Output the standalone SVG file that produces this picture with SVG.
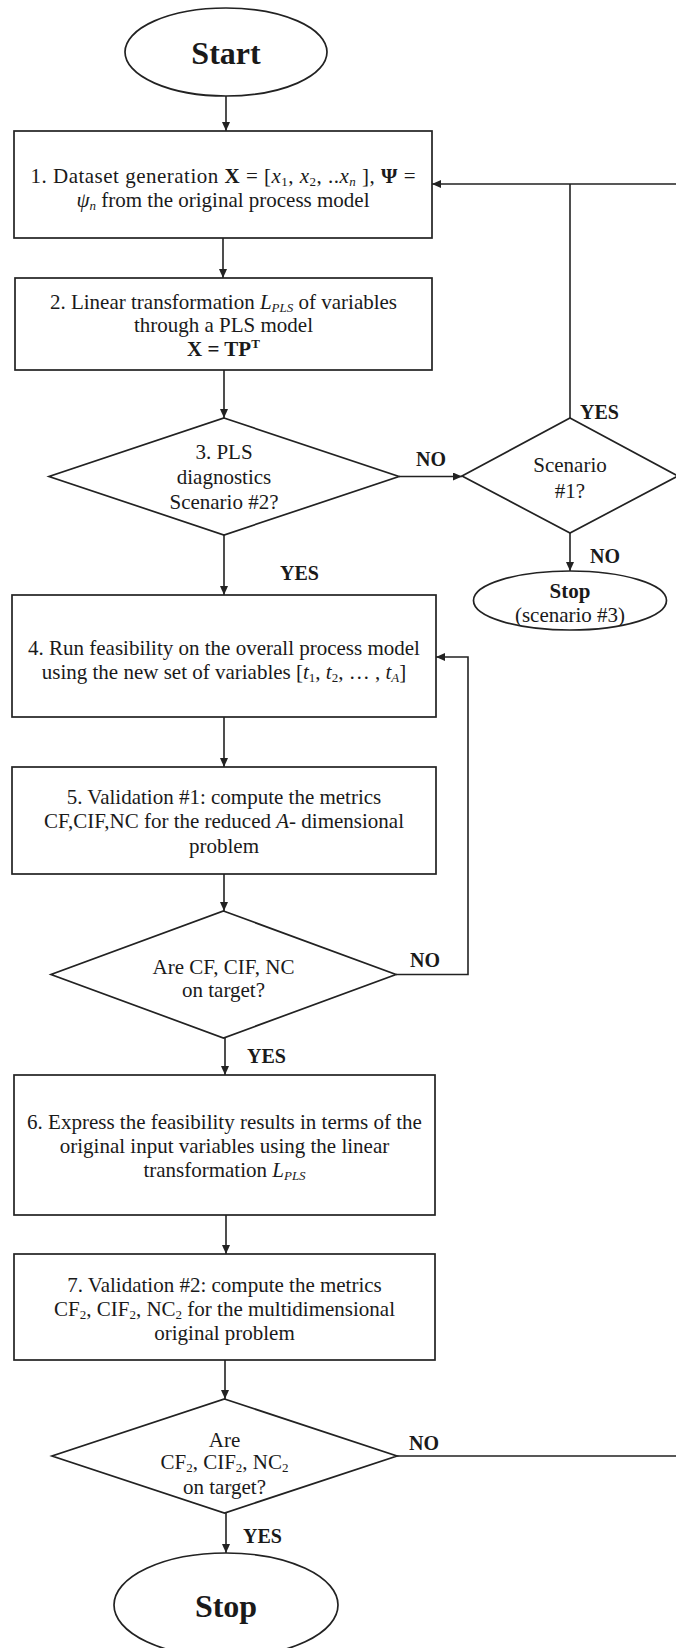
<svg xmlns="http://www.w3.org/2000/svg" width="676" height="1648" viewBox="0 0 676 1648">
  <style>
    .shape { fill: #fff; stroke: #222; stroke-width: 1.7; }
    .conn { fill: none; stroke: #222; stroke-width: 1.6; }
    text { font-family: "Liberation Serif", "Times New Roman", serif; fill: #1a1a1a; }
    .t { font-size: 21px; text-anchor: middle; }
    .lbl { font-size: 20px; font-weight: bold; }
    .big { font-size: 32px; font-weight: bold; text-anchor: middle; }
    .b { font-weight: bold; }
    .i { font-style: italic; }
    .sub { font-size: 13px; }
  </style>
  <defs>
    <marker id="arrow" markerUnits="userSpaceOnUse" markerWidth="9" markerHeight="8" refX="9" refY="4" orient="auto">
      <path d="M0,0 L9,4 L0,8 z" fill="#222"/>
    </marker>
  </defs>

  <rect width="676" height="1648" fill="#fff"/>

  <!-- connectors -->
  <g id="connectors">
    <path class="conn" d="M226,96 V131" marker-end="url(#arrow)"/>
    <path class="conn" d="M223,238 V278" marker-end="url(#arrow)"/>
    <path class="conn" d="M224,370 V418" marker-end="url(#arrow)"/>
    <path class="conn" d="M399,476.5 H462" marker-end="url(#arrow)"/>
    <path class="conn" d="M570,418 V184"/>
    <path class="conn" d="M570,533 V571" marker-end="url(#arrow)"/>
    <path class="conn" d="M224,535 V595" marker-end="url(#arrow)"/>
    <path class="conn" d="M224,717 V767" marker-end="url(#arrow)"/>
    <path class="conn" d="M224,874 V911" marker-end="url(#arrow)"/>
    <path class="conn" d="M396,974.5 H468 V657 H436" marker-end="url(#arrow)"/>
    <path class="conn" d="M225,1038 V1075" marker-end="url(#arrow)"/>
    <path class="conn" d="M226,1215 V1254" marker-end="url(#arrow)"/>
    <path class="conn" d="M225,1360 V1399" marker-end="url(#arrow)"/>
    <path class="conn" d="M397,1456 H690 V184 H432" marker-end="url(#arrow)"/>
    <path class="conn" d="M226,1513 V1553" marker-end="url(#arrow)"/>
  </g>

  <!-- edge labels -->
  <g id="labels">
    <text class="lbl" x="416" y="466">NO</text>
    <text class="lbl" x="580" y="419">YES</text>
    <text class="lbl" x="590" y="563">NO</text>
    <text class="lbl" x="280" y="580">YES</text>
    <text class="lbl" x="410" y="967">NO</text>
    <text class="lbl" x="247" y="1063">YES</text>
    <text class="lbl" x="409" y="1450">NO</text>
    <text class="lbl" x="243" y="1543">YES</text>
  </g>

  <g id="start">
    <ellipse class="shape" cx="226" cy="52" rx="101" ry="44"/>
    <text class="big" x="226" y="64">Start</text>
  </g>

  <g id="step1">
    <rect class="shape" x="14" y="131" width="418" height="107"/>
    <text class="t" x="223" y="183" textLength="385" lengthAdjust="spacing">1. Dataset generation <tspan class="b">X</tspan> = [<tspan class="i">x</tspan><tspan class="sub" dy="3">1</tspan><tspan dy="-3">, </tspan><tspan class="i">x</tspan><tspan class="sub" dy="3">2</tspan><tspan dy="-3">, ..</tspan><tspan class="i">x</tspan><tspan class="sub i" dy="3">n</tspan><tspan dy="-3"> ], </tspan><tspan class="b">Ψ</tspan> =</text>
    <text class="t" x="223" y="207"><tspan class="i">ψ</tspan><tspan class="sub i" dy="3">n</tspan><tspan dy="-3"> from the original process model</tspan></text>
  </g>

  <g id="step2">
    <rect class="shape" x="15" y="278" width="417" height="92"/>
    <text class="t" x="223.5" y="309">2. Linear transformation <tspan class="i">L</tspan><tspan class="sub i" dy="3">PLS</tspan><tspan dy="-3"> of variables</tspan></text>
    <text class="t" x="223.5" y="332">through a PLS model</text>
    <text class="t b" x="223.5" y="356">X = TP<tspan class="sub" dy="-8">T</tspan></text>
  </g>

  <g id="decision3">
    <polygon class="shape" points="224,418 399,476.5 224,535 49,476.5"/>
    <text class="t" x="224" y="459">3. PLS</text>
    <text class="t" x="224" y="484">diagnostics</text>
    <text class="t" x="224" y="509">Scenario #2?</text>
  </g>

  <g id="scenario1">
    <polygon class="shape" points="570,418 678,476 570,533 462,476"/>
    <text class="t" x="570" y="472">Scenario</text>
    <text class="t" x="570" y="498">#1?</text>
  </g>

  <g id="stop3">
    <ellipse class="shape" cx="570" cy="600.5" rx="96.5" ry="29.5"/>
    <text class="t b" x="570" y="598">Stop</text>
    <text class="t" x="570" y="622">(scenario #3)</text>
  </g>

  <g id="step4">
    <rect class="shape" x="12" y="595" width="424" height="122"/>
    <text class="t" x="224" y="655">4. Run feasibility on the overall process model</text>
    <text class="t" x="224" y="679">using the new set of variables [<tspan class="i">t</tspan><tspan class="sub" dy="3">1</tspan><tspan dy="-3">, </tspan><tspan class="i">t</tspan><tspan class="sub" dy="3">2</tspan><tspan dy="-3">, … , </tspan><tspan class="i">t</tspan><tspan class="sub i" dy="3">A</tspan><tspan dy="-3">]</tspan></text>
  </g>

  <g id="step5">
    <rect class="shape" x="12" y="767" width="424" height="107"/>
    <text class="t" x="224" y="804">5. Validation #1: compute the metrics</text>
    <text class="t" x="224" y="828">CF,CIF,NC for the reduced <tspan class="i">A</tspan>- dimensional</text>
    <text class="t" x="224" y="853">problem</text>
  </g>

  <g id="decision5">
    <polygon class="shape" points="223.5,911 396,974.5 223.5,1038 51,974.5"/>
    <text class="t" x="223.5" y="974">Are CF, CIF, NC</text>
    <text class="t" x="223.5" y="997">on target?</text>
  </g>

  <g id="step6">
    <rect class="shape" x="14" y="1075" width="421" height="140"/>
    <text class="t" x="224.5" y="1129">6. Express the feasibility results in terms of the</text>
    <text class="t" x="224.5" y="1153">original input variables using the linear</text>
    <text class="t" x="224.5" y="1177">transformation <tspan class="i">L</tspan><tspan class="sub i" dy="3">PLS</tspan></text>
  </g>

  <g id="step7">
    <rect class="shape" x="14" y="1254" width="421" height="106"/>
    <text class="t" x="224.5" y="1292">7. Validation #2: compute the metrics</text>
    <text class="t" x="224.5" y="1316">CF<tspan class="sub" dy="3">2</tspan><tspan dy="-3">, CIF</tspan><tspan class="sub" dy="3">2</tspan><tspan dy="-3">, NC</tspan><tspan class="sub" dy="3">2</tspan><tspan dy="-3"> for the multidimensional</tspan></text>
    <text class="t" x="224.5" y="1340">original problem</text>
  </g>

  <g id="decision7">
    <polygon class="shape" points="224.5,1399 397,1456 224.5,1513 52,1456"/>
    <text class="t" x="224.5" y="1447">Are</text>
    <text class="t" x="224.5" y="1469">CF<tspan class="sub" dy="3">2</tspan><tspan dy="-3">, CIF</tspan><tspan class="sub" dy="3">2</tspan><tspan dy="-3">, NC</tspan><tspan class="sub" dy="3">2</tspan></text>
    <text class="t" x="224.5" y="1494">on target?</text>
  </g>

  <g id="stop">
    <ellipse class="shape" cx="226" cy="1605" rx="112" ry="52"/>
    <text class="big" x="226" y="1617">Stop</text>
  </g>
</svg>
